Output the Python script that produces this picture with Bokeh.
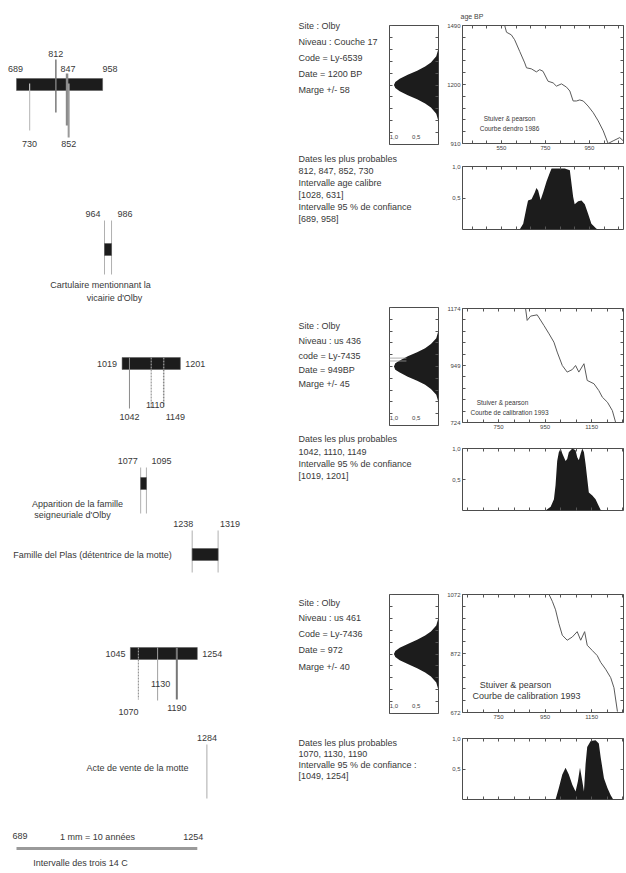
from bokeh.plotting import figure
from bokeh.layouts import row, column
from bokeh.models import Range1d, FixedTicker, LinearAxis
from bokeh.embed import file_html
from bokeh.resources import INLINE
from bokeh.core.properties import value

FONT = value("Liberation Sans")
TXT = "#383838"
INK = "#1c1c1c"
EDGE = "#4d4d4d"

# ------------------------------------------------------------------ data
# left time-line (calendar years AD)
c14_1_interval = [689, 958]
c14_1_dates = [812, 847, 852, 730]
cartulaire_years = [964, 986]
c14_2_interval = [1019, 1201]
c14_2_dates = [1042, 1110, 1149]
apparition_years = [1077, 1095]
plas_years = [1238, 1319]
c14_3_interval = [1045, 1254]
c14_3_dates = [1070, 1130, 1190]
vente_year = 1284
overall_interval = [689, 1254]

# section texts
s1_info = ["Site : Olby", "Niveau : Couche 17", "Code = Ly-6539", "Date = 1200 BP", "Marge +/- 58"]
s1_res = ["Dates les plus probables", "812, 847, 852, 730", "Intervalle age calibre",
          "[1028, 631]", "Intervalle 95 % de confiance", " [689, 958]"]
s2_info = ["Site : Olby", "Niveau : us 436", "code = Ly-7435", "Date = 949BP", "Marge +/- 45"]
s2_res = ["Dates les plus probables", "1042, 1110, 1149", "Intervalle 95 % de confiance", " [1019, 1201]"]
s3_info = ["Site : Olby", "Niveau : us 461", "Code = Ly-7436", "Date = 972", "Marge +/- 40"]
s3_res = ["Dates les plus probables", "1070, 1130, 1190", "Intervalle 95 % de confiance :", "[1049, 1254]"]

# calibration curves (cal AD vs age BP)
cal86_year = [565, 573, 595, 610, 633, 656, 664, 686, 709, 724, 739, 762, 785, 800, 823, 846, 861,
              876, 891, 906, 922, 944, 967, 990, 1013, 1035, 1058, 1088, 1104]
cal86_bp = [1490, 1457, 1444, 1420, 1363, 1306, 1282, 1277, 1262, 1273, 1265, 1216, 1208, 1192, 1203,
            1187, 1168, 1119, 1119, 1124, 1119, 1094, 1062, 1021, 972, 910, 923, 939, 923]
cal93a_year = [866, 873, 888, 916, 945, 967, 988, 1002, 1024, 1045, 1067, 1081, 1095, 1117, 1131,
               1160, 1181, 1196, 1218, 1239, 1253]
cal93a_bp = [1174, 1127, 1144, 1149, 1107, 1074, 1041, 1002, 949, 923, 933, 949, 923, 956, 890,
             877, 850, 824, 804, 771, 725]
cal93b_year = [967, 981, 995, 1009, 1024, 1045, 1067, 1088, 1103, 1120, 1131, 1153, 1174, 1189,
               1210, 1232, 1246, 1261]
cal93b_bp = [1072, 1049, 1020, 974, 934, 917, 928, 946, 917, 946, 900, 882, 865, 842, 819, 790, 756, 675]

# measured 14C age distributions (age BP, relative density)
g1_bp = [1030, 1060, 1090, 1110, 1130, 1150, 1170, 1185, 1200, 1215, 1230, 1250, 1270, 1290, 1310, 1340, 1370]
g2_bp = [817, 841, 863, 879, 895, 910, 926, 937, 949, 961, 972, 988, 1003, 1019, 1035, 1057, 1081]
g3_bp = [755, 776, 796, 810, 824, 838, 851, 862, 872, 882, 893, 906, 920, 934, 948, 968, 989]
g_p = [0.01, 0.05, 0.17, 0.30, 0.48, 0.69, 0.87, 0.97, 1.0, 0.97, 0.87, 0.69, 0.48, 0.30, 0.17, 0.05, 0.01]

# calibrated probability distributions (cal AD, relative probability)
p1_year = [633, 649, 664, 671, 687, 702, 709, 717, 728, 740, 755, 770, 778, 800, 838, 861, 876, 883,
           899, 914, 929, 944, 959, 982, 997]
p1_p = [0, 0.09, 0.35, 0.46, 0.48, 0.59, 0.66, 0.62, 0.47, 0.59, 0.76, 0.90, 0.97, 0.97, 0.97, 0.94,
        0.52, 0.40, 0.45, 0.46, 0.40, 0.25, 0.09, 0.01, 0]
p2_year = [952, 974, 988, 995, 1002, 1009, 1017, 1024, 1038, 1045, 1052, 1067, 1081, 1088, 1095, 1103,
           1110, 1117, 1124, 1138, 1153, 1167, 1177, 1189, 1196]
p2_p = [0, 0.06, 0.18, 0.41, 0.80, 0.94, 1.0, 0.92, 0.80, 0.83, 0.94, 1.0, 0.97, 0.86, 0.81, 0.92,
        1.0, 0.94, 0.75, 0.29, 0.24, 0.18, 0.10, 0.01, 0]
p3_year = [995, 1009, 1024, 1038, 1052, 1067, 1081, 1091, 1100, 1110, 1117, 1124, 1131, 1146, 1167,
           1181, 1189, 1203, 1218, 1232, 1243]
p3_p = [0, 0.19, 0.41, 0.52, 0.41, 0.24, 0.13, 0.30, 0.52, 0.30, 0.13, 0.58, 0.86, 0.96, 0.97, 0.92,
        0.69, 0.35, 0.19, 0.07, 0]

# axis ticks / labels
s1_xlabels = [550, 750, 950]
s23_xlabels = [750, 950, 1150]
s1_ylabels = [910, 1200, 1490]
s2_ylabels = [724, 949, 1174]
s3_ylabels = [672, 872, 1072]


# ------------------------------------------------------------------ helpers
def txt(p, xs, ys, texts, align="left", size="9px", xoff=0, color=TXT):
    p.text(x=xs, y=ys, text=texts, text_font=FONT, text_font_size=size, text_align=align,
           text_baseline="middle", text_color=color, x_offset=xoff)


def make_axis(major, minor, labels=True, overrides=None):
    if labels:
        ax = LinearAxis(ticker=FixedTicker(ticks=major, minor_ticks=minor))
    else:  # ticks only, no tick labels
        ax = LinearAxis(ticker=FixedTicker(ticks=[], minor_ticks=sorted(set(list(major) + list(minor)))))
    ax.axis_line_color = None
    ax.major_tick_in = 3
    ax.major_tick_out = 0
    ax.minor_tick_in = 3
    ax.minor_tick_out = 0
    ax.major_tick_line_color = "#555555"
    ax.minor_tick_line_color = "#555555"
    ax.major_label_text_font = "Liberation Sans"
    ax.major_label_text_color = "#444444"
    ax.major_label_text_font_size = "6px"
    ax.major_label_standoff = 2 if labels else 0
    if overrides:
        ax.major_label_overrides = overrides
    return ax


def base_fig(w, h, xr, yr, bl, br, bt, bb):
    p = figure(width=w, height=h, x_range=Range1d(*xr), y_range=Range1d(*yr),
               x_axis_type=None, y_axis_type=None, output_backend="svg", toolbar_location=None,
               min_border_left=bl, min_border_right=br, min_border_top=bt, min_border_bottom=bb)
    p.outline_line_color = EDGE
    p.outline_line_width = 1
    return p


def add_axes(p, xt, xminor, yt, yminor, xlab=True, ylab=True, yover=None):
    p.add_layout(make_axis(xt, xminor, labels=xlab), "below")
    p.add_layout(make_axis(xt, xminor, labels=False), "above")
    p.add_layout(make_axis(yt, yminor, labels=ylab, overrides=yover), "left")
    p.add_layout(make_axis(yt, yminor, labels=False), "right")


# ------------------------------------------------------------------ left time line (drawn in strips)
YPP = 3.125                       # years per pixel on the time line
items = []                        # (page y, draw function)


def sx(px):                       # page pixel -> x position on the time line
    return 689 + (px - 16) * YPP


def add_text(x, y, t, align="left", size="9px", xoff=0):
    items.append((y, lambda f, x=x, y=y, t=t, a=align, s=size, o=xoff: txt(f, [x], [y], [t], a, s, o)))


def add_bar(a, b, y0, y1):
    items.append(((y0 + y1) / 2, lambda f, a=a, b=b, y0=y0, y1=y1: f.quad(
        left=[a], right=[b], top=[y0], bottom=[y1], fill_color=INK, line_color="#555555", line_width=0.5)))


def add_vline(x, y0, y1, color="#999999", width=1.0, dash="solid"):
    items.append(((y0 + y1) / 2, lambda f, x=x, y0=y0, y1=y1, c=color, w=width, d=dash: f.segment(
        x0=[x], y0=[y0], x1=[x], y1=[y1], line_color=c, line_width=w, line_dash=d)))


# block 1 : first 14C date
add_bar(c14_1_interval[0], c14_1_interval[1], 78, 90)
for d, (y0, y1), col, w in zip(c14_1_dates, [(59, 112), (73, 125), (83, 137), (83, 130)],
                               ["#7a7a7a", "#8a8a8a", "#9a9a9a", "#c0c0c0"], [1.5, 2.5, 2, 1.2]):
    add_vline(d, y0, y1, col, w)
add_text(c14_1_interval[0], 68, str(c14_1_interval[0]), "center", xoff=-1)
add_text(c14_1_interval[1], 68, str(c14_1_interval[1]), "left")
add_text(c14_1_dates[0], 53, str(c14_1_dates[0]), "center")
add_text(c14_1_dates[1], 68, str(c14_1_dates[1]), "center", xoff=1)
add_text(c14_1_dates[2], 143, str(c14_1_dates[2]), "center")
add_text(c14_1_dates[3], 143, str(c14_1_dates[3]), "center")

# block 2 : cartulaire
for d in cartulaire_years:
    add_vline(d, 220, 274, "#b0b0b0", 1)
add_bar(cartulaire_years[0], cartulaire_years[1], 243, 255)
add_text(cartulaire_years[0], 213, str(cartulaire_years[0]), "right", xoff=-4)
add_text(cartulaire_years[1], 213, str(cartulaire_years[1]), "left", xoff=6)
add_text(sx(100), 284, "Cartulaire mentionnant la", "center")
add_text(sx(114), 297, "vicairie d'Olby", "center")

# block 3 : second 14C date
add_bar(c14_2_interval[0], c14_2_interval[1], 357, 369)
add_text(c14_2_interval[0], 363, str(c14_2_interval[0]), "right", xoff=-5)
add_text(c14_2_interval[1], 363, str(c14_2_interval[1]), "left", xoff=5)
add_vline(c14_2_dates[0], 357, 408, "#8a8a8a", 1)
add_vline(c14_2_dates[1], 357, 408, "#999999", 1.2, "2 1")
add_vline(c14_2_dates[2], 357, 406, "#888888", 1.5, "2 1")
add_text(c14_2_dates[0], 416, str(c14_2_dates[0]), "center")
add_text(c14_2_dates[1], 404, str(c14_2_dates[1]), "center", xoff=4)
add_text(c14_2_dates[2], 416, str(c14_2_dates[2]), "left", xoff=2)

# block 4 : apparition
for d in apparition_years:
    add_vline(d, 467, 513, "#b0b0b0", 1)
add_bar(apparition_years[0], apparition_years[1], 477, 489)
add_text(apparition_years[0], 460, str(apparition_years[0]), "right", xoff=-3)
add_text(apparition_years[1], 460, str(apparition_years[1]), "left", xoff=5)
add_text(sx(77), 503, "Apparition de la famille", "center")
add_text(sx(72), 514, "seigneuriale d'Olby", "center")

# block 5 : famille del Plas
for d in plas_years:
    add_vline(d, 530, 572, "#b0b0b0", 1)
add_bar(plas_years[0], plas_years[1], 548, 560)
add_text(plas_years[0], 523, str(plas_years[0]), "right", xoff=1)
add_text(plas_years[1], 523, str(plas_years[1]), "left", xoff=2)
add_text(sx(92), 554, "Famille del Plas (détentrice de la motte)", "center")

# block 6 : third 14C date
add_bar(c14_3_interval[0], c14_3_interval[1], 647, 659)
add_text(c14_3_interval[0], 653, str(c14_3_interval[0]), "right", xoff=-5)
add_text(c14_3_interval[1], 653, str(c14_3_interval[1]), "left", xoff=5)
add_vline(c14_3_dates[0], 647, 699, "#999999", 1.2, "2 1")
add_vline(c14_3_dates[1], 647, 700, "#a0a0a0", 1)
add_vline(c14_3_dates[2], 647, 699, "#777777", 2)
add_text(c14_3_dates[0], 711, str(c14_3_dates[0]), "center", xoff=-10)
add_text(c14_3_dates[1], 683, str(c14_3_dates[1]), "center", xoff=3)
add_text(c14_3_dates[2], 707, str(c14_3_dates[2]), "center")

# block 7 : acte de vente
add_vline(vente_year, 744, 798, "#aaaaaa", 1)
add_text(vente_year, 737, str(vente_year), "center")
add_text(sx(137), 767, "Acte de vente de la motte", "center")

# scale bar
add_text(overall_interval[0], 835, str(overall_interval[0]), "left", xoff=-4)
add_text(sx(97), 836, "1 mm = 10 années", "center")
add_text(overall_interval[1], 836, str(overall_interval[1]), "center", xoff=-4)
items.append((848, lambda f: f.segment(x0=[overall_interval[0]], y0=[848], x1=[overall_interval[1]], y1=[848],
                                        line_color="#9a9a9a", line_width=3)))
add_text(sx(80), 862, "Intervalle des trois 14 C", "center")


def strip(y0, y1, width):
    f = figure(width=width, height=y1 - y0, x_range=Range1d(sx(0), sx(width)), y_range=Range1d(y1, y0),
               x_axis_type=None, y_axis_type=None, output_backend="svg", toolbar_location=None,
               min_border=0)
    f.outline_line_color = None
    for y, fn in items:
        if y0 <= y < y1:
            fn(f)
    return f


# ------------------------------------------------------------------ right sections
LWA, LWB, GW, CW = 386, 440, 54, 186
CX0, CX1 = 462, 623               # curve frame page x
sections = [
    dict(band=(0, 290), split=152, cbox=(25, 143), gbox=(25, 144), pbox=(166, 229),
         up=[25, 41, 57, 73, 89], low=[158, 170, 182, 194, 206, 218],
         info=s1_info, res=s1_res, xr=(373, 1105), yl=s1_ylabels, step=58, xl=s1_xlabels,
         cy=cal86_year, cb=cal86_bp, gb=g1_bp, py=p1_year, pp=p1_p,
         cap=["Stuiver & pearson", "Courbe dendro 1986"], capxy=[(509, 118), (509, 128)], capsize="6.5px"),
    dict(band=(290, 575), split=432, cbox=(308, 422), gbox=(307, 425), pbox=(448, 510),
         up=[325, 340, 355, 369, 383], low=[438, 451, 463, 475],
         info=s2_info, res=s2_res, xr=(595, 1287), yl=s2_ylabels, step=45, xl=s23_xlabels,
         cy=cal93a_year, cb=cal93a_bp, gb=g2_bp, py=p2_year, pp=p2_p,
         cap=["Stuiver & pearson", "Courbe de calibration 1993"], capxy=[(502, 402), (509, 412)], capsize="6.5px"),
    dict(band=(575, 873), split=722, cbox=(594, 712), gbox=(594, 713), pbox=(738, 799),
         up=[602, 617, 633, 649, 666], low=[742, 753, 764, 775],
         info=s3_info, res=s3_res, xr=(595, 1287), yl=s3_ylabels, step=40, xl=s23_xlabels,
         cy=cal93b_year, cb=cal93b_bp, gb=g3_bp, py=p3_year, pp=p3_p,
         cap=["Stuiver & pearson", "Courbe de calibration 1993"], capxy=[(515, 684), (526, 695)], capsize="9px"),
]

rows = []
for i, s in enumerate(sections):
    b0, b1 = s["band"]
    sp = s["split"]
    # section texts belong to the left strips
    for t, y in zip(s["info"], s["up"]):
        add_text(sx(298), y, t)
    for t, y in zip(s["res"], s["low"]):
        add_text(sx(298), y, t)

    ylo, yhi = s["yl"][0], s["yl"][-1]
    yminor = [ylo + k * s["step"] for k in range(11)]
    x0, x1 = s["xr"]
    xminor = [s["xl"][0] + k * 200 / 3 for k in range(-6, 12) if x0 <= s["xl"][0] + k * 200 / 3 <= x1]

    # gaussian (measured age) panel
    g0, g1 = s["gbox"]
    G = base_fig(GW, sp - b0, (1.1, 0), (ylo, yhi), 3, 2, g0 - b0, sp - g1)
    G.harea(x1=g_p, x2=[0] * len(g_p), y=s["gb"], fill_color=INK)
    G.add_layout(make_axis(s["yl"], yminor, labels=False), "left")
    G.add_layout(make_axis(s["yl"], yminor, labels=False), "right")
    span = yhi - ylo
    txt(G, [1.0, 0.5], [ylo + 0.06 * span] * 2, ["1,0", "0,5"], "center", size="6px", color="#444444")
    if i == 1:
        G.segment(x0=[1.1, 1.1], y0=[981, 970], x1=[0.72, 0.72], y1=[981, 970],
                  line_color="#999999", line_width=0.8)

    # calibration curve panel
    c0, c1 = s["cbox"]
    C = base_fig(CW, sp - b0, (x0, x1), (ylo, yhi), CX0 - 440, 626 - CX1, c0 - b0, sp - c1)
    add_axes(C, s["xl"], xminor, s["yl"], yminor)
    C.line(x=s["cy"], y=s["cb"], line_color="#5a5a5a", line_width=1)
    for t, (px, py) in zip(s["cap"], s["capxy"]):
        dx = x0 + (px - CX0) / (CX1 - CX0) * (x1 - x0)
        dy = yhi - (py - c0) / (c1 - c0) * (yhi - ylo)
        txt(C, [dx], [dy], [t], "center", size=s["capsize"])
    if i == 0:
        C.title.text = "age BP"
        C.title.text_font = "Liberation Sans"
        C.title.text_font_size = "7px"
        C.title.text_font_style = "normal"
        C.title.text_color = "#444444"
        C.title.align = "left"
        C.title.offset = -2
        C.title.standoff = 12

    # calibrated probability panel
    p0, p1 = s["pbox"]
    P = base_fig(CW, b1 - sp, (x0, x1), (0, 1.0), CX0 - 440, 626 - CX1, p0 - sp, b1 - p1)
    add_axes(P, s["xl"], xminor, [0.5, 1.0], [], xlab=False, yover={0.5: "0,5", 1.0: "1,0"})
    P.varea(x=s["py"], y1=[0] * len(s["pp"]), y2=s["pp"], fill_color=INK)

    s["G"], s["C"], s["P"] = G, C, P

for s in sections:
    b0, b1 = s["band"]
    sp = s["split"]
    LA = strip(b0, sp, LWA)
    LB = strip(sp, b1, LWB)
    rows.append(row(column(LA), column(s["G"]), column(s["C"])))
    rows.append(row(column(LB), column(s["P"])))

layout = column(*rows)
open("out.html", "w").write(file_html(layout, INLINE))
